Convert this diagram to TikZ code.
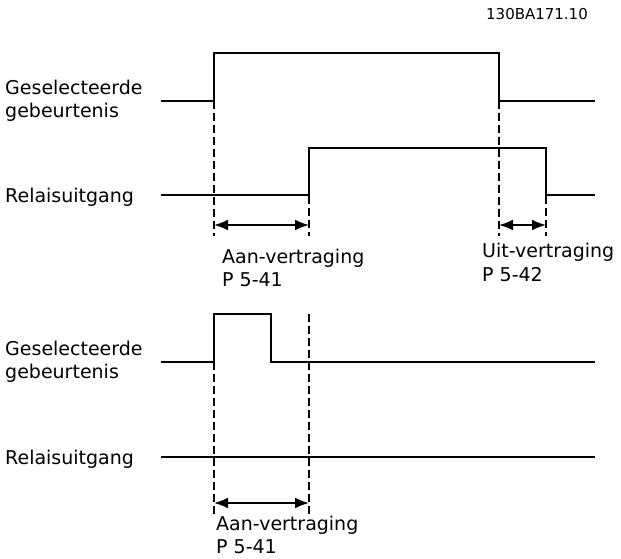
\documentclass[tikz,border=0pt]{standalone}
\usepackage{fontspec}
\setmainfont{DejaVu Sans}
\usetikzlibrary{arrows.meta}
\begin{document}
\begin{tikzpicture}[x=1pt,y=-1pt,
  signal/.style={line width=2pt, line join=miter},
  guide/.style={line width=1.4pt, dash pattern=on 8pt off 4pt},
  span/.style={line width=1.8pt, {Latex[length=14pt,width=11pt]}-{Latex[length=14pt,width=11pt]}},
  lbl/.style={anchor=base west, inner sep=0pt, font=\fontsize{19}{23}\selectfont},
  code/.style={anchor=center, inner sep=0pt, font=\fontsize{15}{17}\selectfont},
]
\useasboundingbox (0,0) rectangle (621,558);

% code
\node[code] (code) at (537,14) {130BA171.10};

% upper diagram: guides
\draw[guide] (214,53) -- (214,236);
\draw[guide] (309,148) -- (309,236);
\draw[guide] (499,53) -- (499,236);
\draw[guide] (546,148) -- (546,236);

% upper signals
\draw[signal] (161,101) -- (214,101) -- (214,53) -- (499,53) -- (499,101) -- (595,101);
\draw[signal] (161,195) -- (309,195) -- (309,148) -- (546,148) -- (546,195) -- (595,195);

% upper arrows
\coordinate (a1) at (214,225);
\coordinate (a2) at (309,225);
\coordinate (b1) at (499,225);
\coordinate (b2) at (546,225);
\draw[span] (a1) -- (a2);
\draw[span] (b1) -- (b2);

% upper labels
\node[lbl] (g1a) at (5,94) {Geselecteerde};
\node[lbl] (g1b) at (5,117) {gebeurtenis};
\node[lbl] (r1) at (5,202) {Relaisuitgang};
\node[lbl] (on1a) at (222,263) {Aan-vertraging};
\node[lbl] (on1b) at (222,286) {P 5-41};
\node[lbl] (off1a) at (482,257) {Uit-vertraging};
\node[lbl] (off1b) at (482,281) {P 5-42};

% lower diagram: guides
\draw[guide] (214,314) -- (214,514);
\draw[guide] (309,314) -- (309,514);

% lower signals
\draw[signal] (161,362) -- (214,362) -- (214,314) -- (271,314) -- (271,362) -- (595,362);
\draw[signal] (161,457) -- (595,457);

% lower arrow
\coordinate (c1) at (214,503);
\coordinate (c2) at (309,503);
\draw[span] (c1) -- (c2);

% lower labels
\node[lbl] (g2a) at (5,355) {Geselecteerde};
\node[lbl] (g2b) at (5,378) {gebeurtenis};
\node[lbl] (r2) at (5,464) {Relaisuitgang};
\node[lbl] (on2a) at (216,530) {Aan-vertraging};
\node[lbl] (on2b) at (216,553) {P 5-41};
\end{tikzpicture}
\end{document}
